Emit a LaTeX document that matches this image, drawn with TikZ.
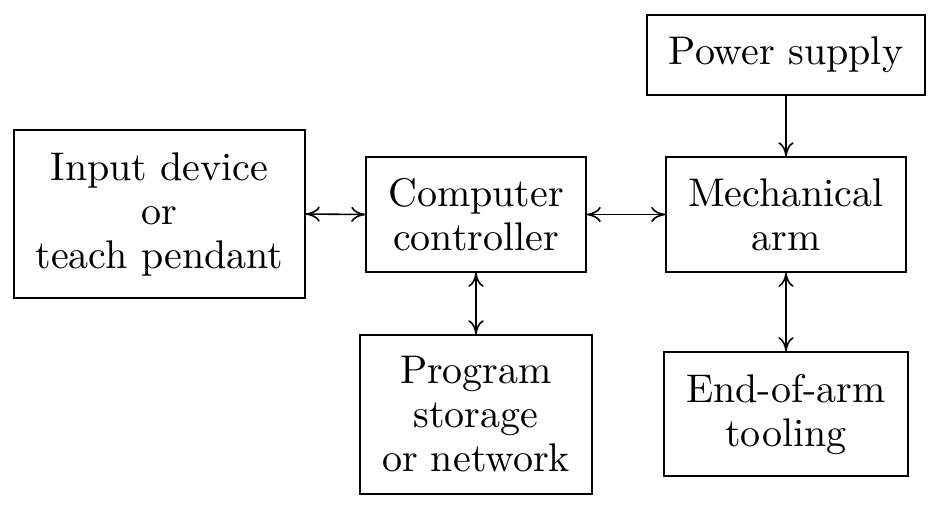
\documentclass[tikz,border=0pt]{standalone}
\usetikzlibrary{arrows.meta}
\begin{document}
\begin{tikzpicture}[x=0.25pt,y=-0.25pt,
  >={To[length=3.5pt,width=3.8pt]},
  box/.style={draw,line width=0.4pt,align=center,inner sep=0pt,
    font=\fontsize{10}{11}\selectfont},
  link/.style={line width=0.4pt}]
\useasboundingbox (0,0) rectangle (940,506);
\node[box,minimum width=72.75pt,minimum height=42pt] (inp) at (159.5,214) {Input device\\or\\teach pendant};
\node[box,minimum width=55pt,minimum height=28.75pt] (ctrl) at (476,214.5) {Computer\\controller};
\node[box,minimum width=60pt,minimum height=28.75pt] (arm) at (786,214.5) {Mechanical\\arm};
\node[box,minimum width=69.5pt,minimum height=20pt] (pow) at (786,55) {Power supply};
\node[box,minimum width=58pt,minimum height=39.75pt] (prog) at (476,414.5) {Program\\storage\\or network};
\node[box,minimum width=61pt,minimum height=31pt] (end) at (786,414) {End-of-arm\\tooling};
\draw[link,<->] (inp.east) -- (ctrl.west);
\draw[link,<->] (ctrl.east) -- (arm.west);
\draw[link,->] (pow.south) -- (arm.north);
\draw[link,<->] (ctrl.south) -- (prog.north);
\draw[link,<->] (arm.south) -- (end.north);
\end{tikzpicture}
\end{document}
